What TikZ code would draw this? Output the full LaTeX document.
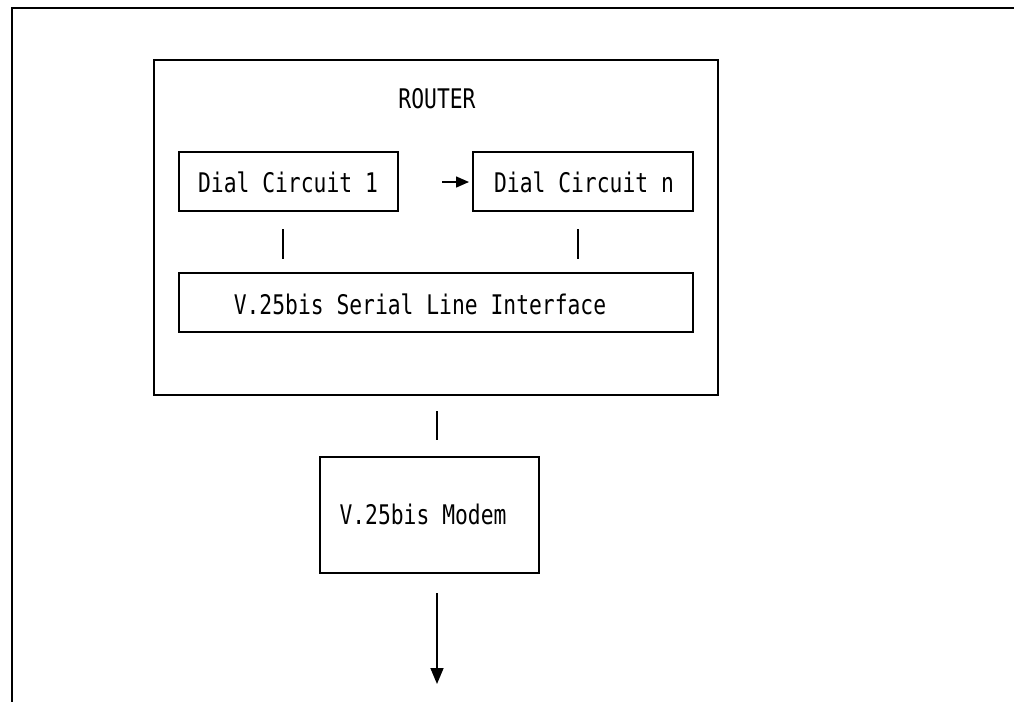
\documentclass[tikz,border=0pt]{standalone}
\usepackage{fontspec}
\newfontfamily\monofam[FakeStretch=0.79]{DejaVu Sans Mono}
\usetikzlibrary{arrows.meta}
\begin{document}
\begin{tikzpicture}[x=1pt,y=-1pt,
  frame/.style={line width=1.6pt},
  boxline/.style={draw, line width=1.3pt, inner sep=0pt},
  lbl/.style={font=\monofam\fontsize{27}{30}\selectfont, inner sep=0pt, anchor=base},
  bar/.style={line width=1.6pt},
  tip/.style={-{Triangle[length=16pt,width=13pt]}, line width=1.6pt}]
\useasboundingbox (0,0) rectangle (1014,702);
% outer frame (top and left only)
\coordinate (ftr) at (1014,8);
\coordinate (ftl) at (12,8);
\coordinate (fbl) at (12,702);
\draw[frame] (ftr) -- (ftl) -- (fbl);
% router box
\node[boxline, minimum width=564pt, minimum height=335pt] (router) at (436,227.5) {};
\node[lbl] (routerT) at (437,108) {ROUTER};
% dial circuits
\node[boxline, minimum width=219pt, minimum height=59pt] (dc1) at (288.5,181.5) {};
\node[lbl] (dc1T) at (288,192) {Dial Circuit 1};
\node[boxline, minimum width=220pt, minimum height=59pt] (dcn) at (583,181.5) {};
\node[lbl] (dcnT) at (584,192) {Dial Circuit n};
\coordinate (arrS) at (442,182);
\coordinate (arrE) at (469,182);
\draw[-{Triangle[length=13pt,width=11pt]}, line width=1.5pt] (arrS) -- (arrE);
% bars
\coordinate (b1a) at (283,229); \coordinate (b1b) at (283,259);
\coordinate (b2a) at (578,229); \coordinate (b2b) at (578,259);
\draw[bar] (b1a) -- (b1b);
\draw[bar] (b2a) -- (b2b);
% serial interface
\node[boxline, minimum width=514pt, minimum height=59pt] (ser) at (436,302.5) {};
\node[lbl] (serT) at (420,314) {V.25bis Serial Line Interface};
% link to modem
\coordinate (l1a) at (437,411); \coordinate (l1b) at (437,440);
\draw[bar] (l1a) -- (l1b);
% modem
\node[boxline, minimum width=219pt, minimum height=116pt] (modem) at (429.5,515) {};
\node[lbl] (modemT) at (423,524) {V.25bis Modem};
% output arrow
\coordinate (outS) at (437,593);
\coordinate (outE) at (437,684);
\draw[tip] (outS) -- (outE);
\end{tikzpicture}
\end{document}
